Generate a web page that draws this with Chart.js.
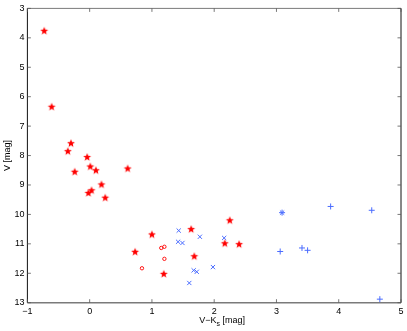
<!DOCTYPE html>
<html>
<head>
<meta charset="utf-8">
<script src="https://cdn.jsdelivr.net/npm/chart.js@4/dist/chart.umd.min.js"></script>
<style>
html,body{margin:0;padding:0;background:#fff;}
#wrap{width:407px;height:331px;position:relative;}
</style>
</head>
<body>
<div id="wrap"><canvas id="c" width="407" height="331"></canvas></div>
<script>
// Red stars
const starX = [-0.73, -0.61, -0.30, -0.35, -0.04, 0.01, 0.10, -0.24, 0.61, 0.19, 0.03, -0.02, 0.25,
               2.25, 1.63, 1.00, 2.17, 2.40, 0.73, 1.68, 1.19];
const starV = [3.76, 6.34, 7.58, 7.85, 8.05, 8.37, 8.50, 8.55, 8.44, 8.98, 9.18, 9.27, 9.43,
               10.20, 10.50, 10.68, 10.98, 11.01, 11.27, 11.42, 12.02];
// Red open circles
const circX = [1.15, 1.20, 1.20, 0.84];
const circV = [11.14, 11.10, 11.51, 11.83];
// Blue x marks
const xmX = [1.43, 1.42, 1.49, 1.77, 2.16, 1.67, 1.72, 1.98, 1.60, 3.09];
const xmV = [10.55, 10.93, 10.97, 10.76, 10.80, 11.90, 11.95, 11.79, 12.33, 9.94];
// Blue plus marks
const plX = [3.09, 3.87, 4.53, 3.06, 3.41, 3.50, 4.66];
const plV = [9.94, 9.73, 9.86, 11.26, 11.14, 11.22, 12.88];

const xTicks = [-1, 0, 1, 2, 3, 4, 5];
const yTicks = [3, 4, 5, 6, 7, 8, 9, 10, 11, 12, 13];

const RED = '#ff0000';
const BLUE = '#4a6cff';
const FONT = 'Liberation Sans, Arial, Helvetica, sans-serif';

function pts(xs, ys) { return xs.map((x, i) => ({x: x, y: ys[i]})); }

// filled five-point star marker
const star = document.createElement('canvas');
star.width = 10; star.height = 10;
(function(){
  const g = star.getContext('2d');
  g.fillStyle = RED;
  g.beginPath();
  for (let i = 0; i < 10; i++) {
    const r = (i % 2 === 0) ? 4.2 : 1.8;
    const a = -Math.PI / 2 + i * Math.PI / 5;
    const px = 5 + r * Math.cos(a), py = 5.3 + r * Math.sin(a);
    if (i === 0) g.moveTo(px, py); else g.lineTo(px, py);
  }
  g.closePath();
  g.fill();
})();

const frame = {
  id: 'frame',
  afterDraw(chart) {
    const {ctx, chartArea: a, scales: {x, y}} = chart;
    ctx.save();
    // box
    ctx.lineWidth = 1;
    ctx.strokeStyle = '#7a7a7a';
    ctx.beginPath();
    ctx.moveTo(a.left, a.top); ctx.lineTo(a.right, a.top);
    ctx.stroke();
    ctx.lineWidth = 1.4;
    ctx.beginPath();
    ctx.moveTo(a.left, a.bottom); ctx.lineTo(a.right, a.bottom);
    ctx.stroke();
    ctx.lineWidth = 1;
    ctx.strokeStyle = '#111';
    ctx.beginPath();
    ctx.moveTo(a.left, a.top); ctx.lineTo(a.left, a.bottom);
    ctx.moveTo(a.right, a.top); ctx.lineTo(a.right, a.bottom);
    ctx.stroke();
    // inward ticks
    const L = 3.5;
    ctx.strokeStyle = '#555';
    ctx.lineWidth = 0.8;
    ctx.beginPath();
    xTicks.forEach(v => {
      const px = x.getPixelForValue(v);
      ctx.moveTo(px, a.bottom); ctx.lineTo(px, a.bottom - L);
      ctx.moveTo(px, a.top); ctx.lineTo(px, a.top + L);
    });
    yTicks.forEach(v => {
      const py = y.getPixelForValue(v);
      ctx.moveTo(a.left, py); ctx.lineTo(a.left + L, py);
      ctx.moveTo(a.right, py); ctx.lineTo(a.right - L, py);
    });
    ctx.stroke();
    // x title with subscript
    ctx.fillStyle = '#000';
    ctx.textBaseline = 'alphabetic';
    ctx.font = '9px ' + FONT;
    const p1 = 'V\u2212K', p3 = ' [mag]';
    ctx.font = '7px ' + FONT;
    const wS = ctx.measureText('s').width;
    ctx.font = '9px ' + FONT;
    const w1 = ctx.measureText(p1).width, w3 = ctx.measureText(p3).width;
    const total = w1 + wS + w3;
    let sx = (a.left + a.right) / 2 - total / 2 + 8;
    const base = 323;
    ctx.fillText(p1, sx, base);
    ctx.font = '7px ' + FONT;
    ctx.fillText('s', sx + w1, base + 2.5);
    ctx.font = '9px ' + FONT;
    ctx.fillText(p3, sx + w1 + wS, base);
    // y title
    ctx.save();
    ctx.translate(9.5, (a.top + a.bottom) / 2);
    ctx.rotate(-Math.PI / 2);
    ctx.textAlign = 'center';
    ctx.fillText('V [mag]', 0, 0);
    ctx.restore();
    ctx.restore();
  }
};

new Chart(document.getElementById('c'), {
  type: 'scatter',
  data: {
    datasets: [
      {label: 'stars', data: pts(starX, starV), pointStyle: star, pointRadius: 5, pointHoverRadius: 5},
      {label: 'circles', data: pts(circX, circV), pointStyle: 'circle', pointRadius: 1.7,
       borderColor: RED, backgroundColor: 'rgba(0,0,0,0)', borderWidth: 0.9},
      {label: 'xmarks', data: pts(xmX, xmV), pointStyle: 'crossRot', pointRadius: 3,
       borderColor: BLUE, backgroundColor: BLUE, borderWidth: 1},
      {label: 'plus', data: pts(plX, plV), pointStyle: 'cross', pointRadius: 3,
       borderColor: BLUE, backgroundColor: BLUE, borderWidth: 1}
    ]
  },
  options: {
    responsive: false,
    animation: false,
    devicePixelRatio: 1,
    layout: {padding: {top: 7.5, right: 6, left: 0, bottom: 0}},
    plugins: {legend: {display: false}, tooltip: {enabled: false}},
    scales: {
      x: {
        type: 'linear', min: -1, max: 5,
        afterBuildTicks: s => { s.ticks = xTicks.map(v => ({value: v})); },
        ticks: {
          color: '#000', padding: 3, font: {size: 9, family: FONT},
          maxRotation: 0, autoSkip: false,
          callback: v => (v < 0 ? '\u2212' + Math.abs(v) : String(v))
        },
        grid: {display: false, drawTicks: false},
        border: {display: false},
        afterFit: s => { s.height = 28.3; }
      },
      y: {
        type: 'linear', min: 3, max: 13, reverse: true,
        afterBuildTicks: s => { s.ticks = yTicks.map(v => ({value: v})); },
        ticks: {color: '#000', padding: 3, font: {size: 9, family: FONT}, autoSkip: false},
        grid: {display: false, drawTicks: false},
        border: {display: false},
        afterFit: s => { s.height; s.width = 27.4; }
      }
    }
  },
  plugins: [frame]
});
</script>
</body>
</html>
